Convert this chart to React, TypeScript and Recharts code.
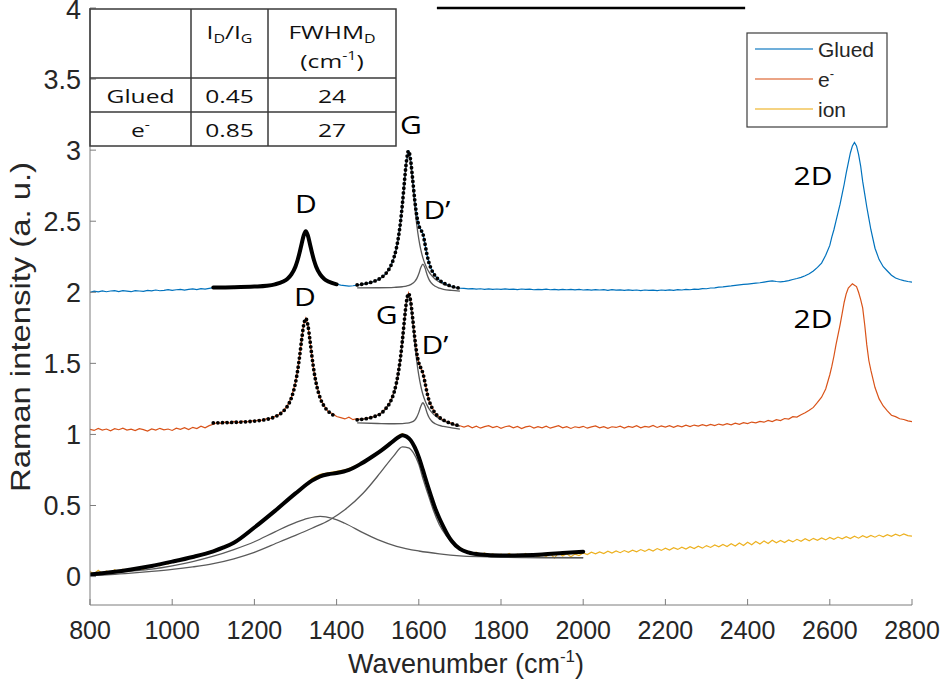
import React from 'react';
import {
  ComposedChart,
  Line,
  XAxis,
  YAxis,
  ReferenceDot,
  ReferenceLine,
} from 'recharts';

// wavenumber (cm-1), intensity (a. u.) pairs
const GLUED: number[][] = [
  [800, 2.0], [810, 2.008], [820, 2.003], [830, 2.01], [840, 2.004], [850, 2.009], [860, 2.012], [870, 2.005], [880, 2.011], [890, 2.008],
  [900, 2.004], [910, 2.012], [920, 2.009], [930, 2.006], [940, 2.013], [950, 2.01], [960, 2.016], [970, 2.011], [980, 2.014], [990, 2.019],
  [1000, 2.013], [1010, 2.018], [1020, 2.021], [1030, 2.015], [1040, 2.02], [1050, 2.024], [1060, 2.019], [1070, 2.026], [1080, 2.022], [1090, 2.028],
  [1100, 2.033], [1120, 2.031], [1140, 2.036], [1160, 2.034], [1180, 2.039], [1200, 2.041], [1220, 2.044], [1240, 2.051], [1250, 2.056], [1260, 2.064],
  [1270, 2.076], [1280, 2.094], [1290, 2.126], [1300, 2.182], [1305, 2.225], [1310, 2.28], [1315, 2.342], [1320, 2.4], [1325, 2.43], [1330, 2.4],
  [1335, 2.342], [1340, 2.28], [1345, 2.225], [1350, 2.182], [1360, 2.126], [1370, 2.094], [1380, 2.076], [1390, 2.064], [1400, 2.058], [1410, 2.05],
  [1420, 2.047], [1430, 2.043], [1440, 2.046], [1450, 2.05], [1460, 2.056], [1470, 2.061], [1480, 2.066], [1490, 2.076], [1500, 2.088], [1510, 2.106],
  [1520, 2.133], [1530, 2.176], [1540, 2.249], [1545, 2.304], [1550, 2.38], [1555, 2.483], [1560, 2.618], [1565, 2.777], [1570, 2.923], [1575, 3.0],
  [1580, 2.932], [1585, 2.797], [1590, 2.653], [1595, 2.54], [1600, 2.471], [1605, 2.439], [1610, 2.412], [1615, 2.341], [1620, 2.264], [1625, 2.206],
  [1630, 2.166], [1640, 2.115], [1650, 2.086], [1660, 2.066], [1670, 2.052], [1680, 2.042], [1690, 2.034], [1700, 2.029],
  [1710, 2.027], [1720, 2.024], [1730, 2.026], [1740, 2.022], [1750, 2.025], [1760, 2.021], [1770, 2.024], [1780, 2.02], [1790, 2.023], [1800, 2.021],
  [1810, 2.024], [1820, 2.02], [1830, 2.022], [1840, 2.019], [1850, 2.023], [1860, 2.02], [1870, 2.022], [1880, 2.018], [1890, 2.021], [1900, 2.019],
  [1910, 2.022], [1920, 2.018], [1930, 2.021], [1940, 2.017], [1950, 2.02], [1960, 2.018], [1970, 2.021], [1980, 2.017], [1990, 2.02], [2000, 2.016],
  [2010, 2.019], [2020, 2.015], [2030, 2.019], [2040, 2.016], [2050, 2.018], [2060, 2.014], [2070, 2.018], [2080, 2.015], [2090, 2.017], [2100, 2.013],
  [2110, 2.017], [2120, 2.014], [2130, 2.016], [2140, 2.012], [2150, 2.016], [2160, 2.013], [2170, 2.015], [2180, 2.012], [2190, 2.016], [2200, 2.013],
  [2210, 2.017], [2220, 2.014], [2230, 2.018], [2240, 2.016], [2250, 2.02], [2260, 2.018], [2270, 2.022], [2280, 2.021], [2290, 2.026], [2300, 2.025],
  [2310, 2.03], [2320, 2.031], [2330, 2.036], [2340, 2.038], [2350, 2.042], [2360, 2.045], [2370, 2.049], [2380, 2.052], [2390, 2.055], [2400, 2.058],
  [2410, 2.061], [2420, 2.064], [2430, 2.067], [2440, 2.072], [2450, 2.077], [2460, 2.08], [2470, 2.076], [2480, 2.073], [2490, 2.077], [2500, 2.082],
  [2510, 2.09], [2520, 2.097], [2530, 2.105], [2540, 2.116], [2550, 2.13], [2560, 2.15], [2570, 2.175], [2580, 2.205], [2590, 2.26], [2600, 2.33],
  [2605, 2.39], [2610, 2.44], [2615, 2.5], [2620, 2.56], [2625, 2.62], [2630, 2.69], [2635, 2.76], [2640, 2.84], [2645, 2.91], [2650, 2.98],
  [2655, 3.03], [2660, 3.055], [2665, 3.03], [2670, 2.97], [2675, 2.89], [2680, 2.78], [2685, 2.69], [2690, 2.6], [2695, 2.52], [2700, 2.44],
  [2710, 2.31], [2720, 2.23], [2730, 2.18], [2740, 2.15], [2750, 2.12], [2760, 2.1], [2770, 2.09], [2780, 2.082], [2790, 2.076], [2800, 2.072],
];

const ELECTRON: number[][] = [
  [800, 1.035], [810, 1.028], [820, 1.042], [830, 1.031], [840, 1.038], [850, 1.026], [860, 1.04], [870, 1.033], [880, 1.044], [890, 1.03],
  [900, 1.037], [910, 1.027], [920, 1.041], [930, 1.034], [940, 1.024], [950, 1.039], [960, 1.03], [970, 1.043], [980, 1.032], [990, 1.038],
  [1000, 1.028], [1010, 1.044], [1020, 1.036], [1030, 1.047], [1040, 1.034], [1050, 1.05], [1060, 1.041], [1070, 1.058], [1080, 1.046], [1090, 1.062],
  [1100, 1.072], [1110, 1.084], [1120, 1.076], [1130, 1.088], [1140, 1.08], [1150, 1.091], [1160, 1.083], [1170, 1.094], [1180, 1.086], [1190, 1.097],
  [1200, 1.093], [1210, 1.102], [1220, 1.099], [1230, 1.111], [1240, 1.113], [1250, 1.127], [1260, 1.139], [1270, 1.166], [1280, 1.201], [1290, 1.262],
  [1300, 1.366], [1305, 1.447], [1310, 1.551], [1315, 1.668], [1320, 1.775], [1325, 1.818], [1330, 1.769], [1335, 1.664], [1340, 1.546], [1345, 1.441],
  [1350, 1.362], [1360, 1.254], [1370, 1.201], [1380, 1.158], [1390, 1.147], [1400, 1.126], [1410, 1.118], [1420, 1.109], [1430, 1.121], [1440, 1.104],
  [1450, 1.112], [1460, 1.106], [1470, 1.113], [1480, 1.116], [1490, 1.127], [1500, 1.136], [1510, 1.155], [1520, 1.186], [1530, 1.228], [1540, 1.301],
  [1545, 1.352], [1550, 1.434], [1555, 1.528], [1560, 1.661], [1565, 1.802], [1570, 1.937], [1575, 1.995], [1580, 1.944], [1585, 1.816], [1590, 1.687],
  [1595, 1.571], [1600, 1.507], [1605, 1.464], [1610, 1.434], [1615, 1.364], [1620, 1.298], [1625, 1.235], [1630, 1.204], [1640, 1.146], [1650, 1.123],
  [1660, 1.098], [1670, 1.09], [1680, 1.079], [1690, 1.066], [1700, 1.061],
  [1710, 1.052], [1720, 1.061], [1730, 1.047], [1740, 1.058], [1750, 1.044], [1760, 1.055], [1770, 1.062], [1780, 1.048], [1790, 1.057], [1800, 1.043],
  [1810, 1.054], [1820, 1.06], [1830, 1.046], [1840, 1.056], [1850, 1.041], [1860, 1.053], [1870, 1.059], [1880, 1.045], [1890, 1.055], [1900, 1.047],
  [1910, 1.058], [1920, 1.044], [1930, 1.053], [1940, 1.061], [1950, 1.046], [1960, 1.055], [1970, 1.042], [1980, 1.054], [1990, 1.048], [2000, 1.057],
  [2010, 1.044], [2020, 1.053], [2030, 1.06], [2040, 1.046], [2050, 1.055], [2060, 1.043], [2070, 1.054], [2080, 1.049], [2090, 1.058], [2100, 1.045],
  [2110, 1.056], [2120, 1.05], [2130, 1.061], [2140, 1.047], [2150, 1.057], [2160, 1.052], [2170, 1.063], [2180, 1.049], [2190, 1.06], [2200, 1.052],
  [2210, 1.061], [2220, 1.05], [2230, 1.062], [2240, 1.054], [2250, 1.065], [2260, 1.055], [2270, 1.066], [2280, 1.058], [2290, 1.069], [2300, 1.061],
  [2310, 1.071], [2320, 1.062], [2330, 1.073], [2340, 1.066], [2350, 1.076], [2360, 1.068], [2370, 1.079], [2380, 1.071], [2390, 1.083], [2400, 1.076],
  [2410, 1.087], [2420, 1.081], [2430, 1.092], [2440, 1.086], [2450, 1.098], [2460, 1.091], [2470, 1.104], [2480, 1.098], [2490, 1.112], [2500, 1.108],
  [2510, 1.125], [2520, 1.122], [2530, 1.138], [2540, 1.152], [2550, 1.17], [2560, 1.19], [2570, 1.225], [2580, 1.262], [2590, 1.32], [2600, 1.42],
  [2605, 1.48], [2610, 1.55], [2615, 1.63], [2620, 1.7], [2625, 1.77], [2630, 1.85], [2635, 1.93], [2640, 1.99], [2645, 2.03], [2650, 2.045],
  [2655, 2.06], [2660, 2.05], [2665, 2.04], [2670, 2.0], [2675, 1.95], [2680, 1.89], [2685, 1.77], [2690, 1.63], [2695, 1.52], [2700, 1.45],
  [2710, 1.33], [2720, 1.25], [2730, 1.2], [2740, 1.165], [2750, 1.135], [2760, 1.125], [2770, 1.11], [2780, 1.105], [2790, 1.095], [2800, 1.09],
];

const ION: number[][] = [
  [800, 0.035], [810, 0.018], [820, 0.045], [830, 0.022], [840, 0.04], [850, 0.026], [860, 0.048], [870, 0.03], [880, 0.052], [890, 0.036],
  [900, 0.058], [910, 0.044], [920, 0.062], [930, 0.05], [940, 0.072], [950, 0.066], [960, 0.085], [970, 0.076], [980, 0.094], [990, 0.088],
  [1000, 0.112], [1010, 0.104], [1020, 0.125], [1030, 0.118], [1040, 0.14], [1050, 0.133], [1060, 0.152], [1070, 0.149], [1080, 0.168], [1090, 0.165],
  [1100, 0.185], [1120, 0.205], [1140, 0.228], [1160, 0.262], [1180, 0.295], [1200, 0.34], [1220, 0.385], [1240, 0.445], [1260, 0.488], [1280, 0.54],
  [1300, 0.59], [1320, 0.63], [1340, 0.69], [1360, 0.72], [1380, 0.73], [1400, 0.74], [1420, 0.75], [1440, 0.772], [1460, 0.8], [1480, 0.835],
  [1500, 0.875], [1520, 0.92], [1540, 0.965], [1550, 0.99], [1560, 1.005], [1570, 0.99], [1580, 0.965], [1590, 0.915], [1600, 0.85], [1610, 0.762],
  [1620, 0.66], [1630, 0.575], [1640, 0.485], [1650, 0.42], [1660, 0.355], [1670, 0.3], [1680, 0.262], [1690, 0.222], [1700, 0.205], [1710, 0.185],
  [1720, 0.178], [1730, 0.16], [1740, 0.172], [1750, 0.152], [1760, 0.166], [1770, 0.148], [1780, 0.16], [1790, 0.143], [1800, 0.158], [1810, 0.146],
  [1820, 0.162], [1830, 0.14], [1840, 0.157], [1850, 0.145], [1860, 0.163], [1870, 0.142], [1880, 0.159], [1890, 0.138], [1900, 0.156], [1910, 0.141],
  [1920, 0.162], [1930, 0.13], [1940, 0.168], [1950, 0.145], [1960, 0.16], [1970, 0.139], [1980, 0.158], [1990, 0.148], [2000, 0.166], [2010, 0.155],
  [2020, 0.172], [2030, 0.16], [2040, 0.174], [2050, 0.162], [2060, 0.178], [2070, 0.165], [2080, 0.18], [2090, 0.168], [2100, 0.183], [2110, 0.171],
  [2120, 0.186], [2130, 0.174], [2140, 0.19], [2150, 0.177], [2160, 0.192], [2170, 0.18], [2180, 0.197], [2190, 0.184], [2200, 0.199], [2210, 0.186],
  [2220, 0.203], [2230, 0.191], [2240, 0.206], [2250, 0.193], [2260, 0.21], [2270, 0.197], [2280, 0.214], [2290, 0.2], [2300, 0.218], [2310, 0.205],
  [2320, 0.222], [2330, 0.209], [2340, 0.226], [2350, 0.212], [2360, 0.231], [2370, 0.215], [2380, 0.236], [2390, 0.219], [2400, 0.242], [2410, 0.224],
  [2420, 0.247], [2430, 0.229], [2440, 0.251], [2450, 0.233], [2460, 0.256], [2470, 0.238], [2480, 0.254], [2490, 0.24], [2500, 0.258], [2510, 0.244],
  [2520, 0.262], [2530, 0.248], [2540, 0.266], [2550, 0.252], [2560, 0.269], [2570, 0.255], [2580, 0.272], [2590, 0.258], [2600, 0.275], [2610, 0.262],
  [2620, 0.278], [2630, 0.265], [2640, 0.28], [2650, 0.268], [2660, 0.284], [2670, 0.27], [2680, 0.287], [2690, 0.274], [2700, 0.29], [2710, 0.277],
  [2720, 0.292], [2730, 0.28], [2740, 0.295], [2750, 0.283], [2760, 0.298], [2770, 0.286], [2780, 0.3], [2790, 0.288], [2800, 0.285],
];

// Lorentzian fits and their components
const GLUED_D_FIT: number[][] = [
  [1100, 2.033], [1150, 2.035], [1200, 2.04], [1230, 2.046], [1250, 2.056], [1270, 2.076], [1280, 2.094], [1290, 2.126], [1300, 2.182], [1305, 2.225],
  [1310, 2.28], [1315, 2.342], [1320, 2.4], [1325, 2.43], [1330, 2.4], [1335, 2.342], [1340, 2.28], [1345, 2.225], [1350, 2.182], [1360, 2.126],
  [1370, 2.094], [1380, 2.076], [1400, 2.056],
];
const GLUED_G_FIT: number[][] = [
  [1450, 2.052], [1470, 2.061], [1490, 2.076], [1510, 2.106], [1520, 2.133], [1530, 2.176], [1540, 2.249], [1545, 2.304], [1550, 2.38], [1555, 2.483],
  [1560, 2.618], [1565, 2.777], [1570, 2.923], [1575, 2.995], [1580, 2.932], [1585, 2.797], [1590, 2.653], [1595, 2.54], [1600, 2.471], [1605, 2.439],
  [1610, 2.412], [1615, 2.341], [1620, 2.264], [1625, 2.206], [1630, 2.166], [1640, 2.115], [1650, 2.086], [1660, 2.066], [1680, 2.042], [1700, 2.029],
];
const GLUED_G_COMP: number[][] = [
  [1450, 2.051], [1470, 2.06], [1490, 2.075], [1510, 2.104], [1520, 2.13], [1530, 2.172], [1540, 2.244], [1545, 2.299], [1550, 2.374], [1555, 2.476],
  [1560, 2.609], [1565, 2.766], [1570, 2.909], [1575, 2.97], [1580, 2.909], [1585, 2.766], [1590, 2.609], [1595, 2.476], [1600, 2.374], [1605, 2.298],
  [1610, 2.242], [1615, 2.2], [1620, 2.167], [1625, 2.142], [1630, 2.122], [1640, 2.092], [1650, 2.072], [1660, 2.057], [1680, 2.038], [1700, 2.026],
];
const GLUED_DP_COMP: number[][] = [
  [1450, 2.031], [1500, 2.032], [1540, 2.035], [1560, 2.039], [1570, 2.044], [1580, 2.054], [1590, 2.075], [1595, 2.096], [1600, 2.13], [1605, 2.174],
  [1610, 2.198], [1615, 2.172], [1620, 2.125], [1625, 2.089], [1630, 2.067], [1640, 2.042], [1650, 2.029], [1660, 2.021], [1680, 2.013], [1700, 2.008],
];

const E_D_FIT: number[][] = [
  [1100, 1.081], [1150, 1.085], [1200, 1.094], [1230, 1.106], [1250, 1.124], [1270, 1.162], [1280, 1.197], [1290, 1.257], [1300, 1.364], [1305, 1.445],
  [1310, 1.549], [1315, 1.667], [1320, 1.771], [1325, 1.815], [1330, 1.771], [1335, 1.667], [1340, 1.549], [1345, 1.445], [1350, 1.364], [1360, 1.257],
  [1370, 1.197], [1380, 1.162], [1400, 1.124],
];
const E_G_FIT: number[][] = [
  [1450, 1.103], [1470, 1.11], [1490, 1.124], [1510, 1.152], [1520, 1.183], [1530, 1.225], [1540, 1.298], [1545, 1.355], [1550, 1.431], [1555, 1.531],
  [1560, 1.658], [1565, 1.805], [1570, 1.934], [1575, 1.991], [1580, 1.941], [1585, 1.819], [1590, 1.684], [1595, 1.574], [1600, 1.504], [1605, 1.467],
  [1610, 1.431], [1615, 1.367], [1620, 1.295], [1625, 1.238], [1630, 1.201], [1640, 1.149], [1650, 1.12], [1660, 1.101], [1680, 1.076], [1700, 1.06],
];
const E_G_COMP: number[][] = [
  [1450, 1.103], [1470, 1.11], [1490, 1.123], [1510, 1.152], [1520, 1.18], [1530, 1.222], [1540, 1.294], [1545, 1.35], [1550, 1.425], [1555, 1.524],
  [1560, 1.65], [1565, 1.795], [1570, 1.922], [1575, 1.975], [1580, 1.92], [1585, 1.791], [1590, 1.644], [1595, 1.516], [1600, 1.415], [1605, 1.339],
  [1610, 1.281], [1615, 1.239], [1620, 1.206], [1625, 1.18], [1630, 1.16], [1640, 1.131], [1650, 1.11], [1660, 1.095], [1680, 1.073], [1700, 1.058],
];
const E_DP_COMP: number[][] = [
  [1450, 1.081], [1500, 1.077], [1540, 1.075], [1560, 1.076], [1570, 1.079], [1580, 1.085], [1590, 1.1], [1595, 1.122], [1600, 1.155], [1605, 1.199],
  [1610, 1.223], [1615, 1.198], [1620, 1.153], [1625, 1.119], [1630, 1.098], [1640, 1.075], [1650, 1.063], [1660, 1.056], [1680, 1.046], [1700, 1.038],
];

const ION_FIT: number[][] = [
  [800, 0.014], [850, 0.03], [900, 0.05], [950, 0.075], [1000, 0.105], [1050, 0.138], [1100, 0.178], [1125, 0.205], [1150, 0.238], [1200, 0.345],
  [1250, 0.462], [1300, 0.585], [1340, 0.675], [1360, 0.705], [1380, 0.72], [1400, 0.728], [1430, 0.75], [1460, 0.795], [1490, 0.85], [1510, 0.89],
  [1530, 0.935], [1550, 0.98], [1560, 0.995], [1570, 0.985], [1580, 0.96], [1590, 0.91], [1600, 0.84], [1610, 0.75], [1620, 0.655], [1630, 0.565],
  [1640, 0.48], [1650, 0.41], [1660, 0.35], [1670, 0.295], [1680, 0.25], [1700, 0.195], [1720, 0.17], [1750, 0.155], [1800, 0.148], [1850, 0.15],
  [1900, 0.155], [1950, 0.165], [2000, 0.175],
];
const ION_COMP_1: number[][] = [
  [800, 0.014], [850, 0.025], [900, 0.038], [950, 0.052], [1000, 0.075], [1050, 0.105], [1100, 0.143], [1150, 0.19], [1200, 0.245], [1250, 0.315],
  [1300, 0.38], [1330, 0.41], [1360, 0.424], [1390, 0.41], [1420, 0.375], [1465, 0.307], [1500, 0.26], [1546, 0.213], [1600, 0.18], [1650, 0.16],
  [1700, 0.146], [1750, 0.14], [1800, 0.137], [1900, 0.134], [2000, 0.133],
];
const ION_COMP_2: number[][] = [
  [800, 0.007], [850, 0.014], [900, 0.024], [950, 0.036], [1000, 0.05], [1050, 0.068], [1100, 0.091], [1150, 0.125], [1200, 0.17], [1262, 0.245],
  [1300, 0.29], [1340, 0.34], [1384, 0.4], [1420, 0.47], [1465, 0.588], [1506, 0.729], [1538, 0.846], [1560, 0.912], [1575, 0.905], [1587, 0.87],
  [1600, 0.79], [1611, 0.68], [1623, 0.575], [1635, 0.47], [1650, 0.365], [1668, 0.283], [1690, 0.215], [1708, 0.178], [1730, 0.158], [1749, 0.148],
  [1789, 0.138], [1850, 0.134], [2000, 0.132],
];

const X_TICKS = [800, 1000, 1200, 1400, 1600, 1800, 2000, 2200, 2400, 2600, 2800];
const X_TOP_TICKS = [1000, 1200, 1600, 2400, 2600];
const Y_TICKS = [0, 0.5, 1, 1.5, 2, 2.5, 3, 3.5, 4];

// peak labels: [text, wavenumber, intensity]
const PEAK_LABELS: [string, number, number][] = [
  ['D', 1325, 2.62],
  ['G', 1581, 3.18],
  ['D\u2019', 1644, 2.58],
  ['D', 1323, 1.97],
  ['G', 1522, 1.84],
  ['D\u2019', 1639, 1.63],
  ['2D', 2559, 2.82],
  ['2D', 2559, 1.81],
];

const BLUE = '#0072BD';
const ORANGE = '#D95319';
const YELLOW = '#EDB120';
const COMP = '#5a5a5a';
const AXIS = '#7d7d7d';
const SANS = "'Liberation Sans', Arial, Helvetica, sans-serif";
const CALI = "'Open Sans', 'Noto Sans', sans-serif";

const pts = (a: number[][]) => a.map(([x, y]) => ({ x, y }));

function XTick({ x, y, payload }: any) {
  return (
    <text x={x} y={y + 34} textAnchor="middle" fontFamily={SANS} fontSize={25} fill="#262626">
      {payload.value}
    </text>
  );
}

function YTick({ x, y, payload }: any) {
  return (
    <text x={x - 9} y={y + 9.5} textAnchor="end" fontFamily={SANS} fontSize={27} fill="#262626">
      {payload.value}
    </text>
  );
}

const peakShape = (text: string) => (p: any) => (
  <text
    transform={`translate(${p.cx} ${p.cy + 9}) scale(1.2 1)`}
    textAnchor="middle"
    fontFamily={CALI}
    fontSize={25}
    fill="#000"
  >
    {text}
  </text>
);

function TableText({ cx, y, children, size = 18.5 }: any) {
  return (
    <text transform={`translate(${cx} ${y}) scale(1.33 1)`} textAnchor="middle" fontFamily={CALI} fontSize={size} fill="#111">
      {children}
    </text>
  );
}

function Overlay() {
  return (
    <svg width={941} height={680} style={{ position: 'absolute', left: 0, top: 0, pointerEvents: 'none' }}>
      {/* table */}
      <g stroke="#3a3a3a" strokeWidth={1.5} fill="none">
        <rect x={90} y={9} width={306} height={137} />
        <line x1={191} y1={9} x2={191} y2={146} />
        <line x1={268} y1={9} x2={268} y2={146} />
        <line x1={90} y1={78} x2={396} y2={78} />
        <line x1={90} y1={112} x2={396} y2={112} />
      </g>
      <TableText cx={229.5} y={39}>
        I<tspan fontSize={12} dy={4}>D</tspan>
        <tspan dy={-4}>/I</tspan>
        <tspan fontSize={12} dy={4}>G</tspan>
      </TableText>
      <TableText cx={332} y={39}>
        FWHM<tspan fontSize={12} dy={4}>D</tspan>
      </TableText>
      <TableText cx={332} y={68}>
        (cm<tspan fontSize={12} dy={-8}>-1</tspan>
        <tspan dy={8}>)</tspan>
      </TableText>
      <TableText cx={140.5} y={103}>Glued</TableText>
      <TableText cx={229.5} y={103}>0.45</TableText>
      <TableText cx={332} y={103}>24</TableText>
      <TableText cx={140.5} y={137}>
        e<tspan fontSize={12} dy={-8}>-</tspan>
      </TableText>
      <TableText cx={229.5} y={137}>0.85</TableText>
      <TableText cx={332} y={137}>27</TableText>

      {/* legend */}
      <rect x={747} y={33} width={140} height={94} fill="#fff" stroke="#3c3c3c" strokeWidth={1.2} />
      <line x1={755} y1={49} x2={813} y2={49} stroke={BLUE} strokeOpacity={0.75} strokeWidth={1.6} />
      <line x1={755} y1={79} x2={813} y2={79} stroke={ORANGE} strokeOpacity={0.7} strokeWidth={1.6} />
      <line x1={755} y1={109} x2={813} y2={109} stroke={YELLOW} strokeOpacity={0.75} strokeWidth={1.6} />
      <text x={818} y={57} fontFamily={SANS} fontSize={21} fill="#262626">Glued</text>
      <text x={818} y={87} fontFamily={SANS} fontSize={21} fill="#262626">
        e<tspan fontSize={13} dy={-9}>-</tspan>
      </text>
      <text x={818} y={117} fontFamily={SANS} fontSize={21} fill="#262626">ion</text>

      {/* axis titles */}
      <text x={466} y={673} textAnchor="middle" fontFamily={SANS} fontSize={27} fill="#262626">
        Wavenumber (cm<tspan fontSize={17} dy={-11}>-1</tspan>
        <tspan dy={11}>)</tspan>
      </text>
      <text
        transform="translate(30 327) rotate(-90)"
        textAnchor="middle"
        fontFamily={SANS}
        fontSize={27}
        fill="#262626"
        textLength={330}
        lengthAdjust="spacingAndGlyphs"
      >
        Raman intensity (a. u.)
      </text>
    </svg>
  );
}

export default function App() {
  const dataLine = { dot: false, activeDot: false, isAnimationActive: false, type: 'linear' as const, dataKey: 'y' };
  const compLine = { ...dataLine, type: 'monotone' as const, stroke: COMP, strokeWidth: 1.3 };
  const thickFit = { ...dataLine, type: 'monotone' as const, stroke: '#000', strokeWidth: 4, strokeLinecap: 'round' as const };
  const dottedFit = { ...thickFit, strokeWidth: 3.8, strokeDasharray: '0 4.6' };

  return (
    <div style={{ position: 'absolute', left: 0, top: 0, width: 941, height: 680, background: '#fff' }}>
      <ComposedChart width={941} height={680} margin={{ top: 8, right: 29, bottom: 45, left: 0 }}>
        <XAxis
          xAxisId={0}
          type="number"
          dataKey="x"
          domain={[800, 2800]}
          ticks={X_TICKS}
          allowDataOverflow
          height={30}
          tickSize={-6}
          tickMargin={6}
          tick={<XTick />}
          axisLine={{ stroke: AXIS }}
          tickLine={{ stroke: AXIS }}
        />
        <XAxis
          xAxisId="top"
          orientation="top"
          type="number"
          dataKey="x"
          domain={[800, 2800]}
          ticks={X_TOP_TICKS}
          allowDataOverflow
          height={0}
          tickSize={-6}
          tick={false}
          axisLine={{ stroke: AXIS }}
          tickLine={{ stroke: AXIS }}
        />
        <YAxis
          yAxisId={0}
          type="number"
          domain={[-0.2, 4]}
          ticks={Y_TICKS}
          allowDataOverflow
          width={90}
          tickSize={-6}
          tickMargin={6}
          tick={<YTick />}
          axisLine={{ stroke: AXIS }}
          tickLine={{ stroke: AXIS }}
        />
        <YAxis
          yAxisId="right"
          orientation="right"
          type="number"
          domain={[-0.2, 4]}
          ticks={Y_TICKS}
          allowDataOverflow
          width={0}
          tickSize={-6}
          tick={false}
          axisLine={{ stroke: AXIS }}
          tickLine={{ stroke: AXIS }}
        />

        <Line {...dataLine} data={pts(GLUED)} stroke={BLUE} strokeWidth={1.2} />
        <Line {...dataLine} data={pts(ELECTRON)} stroke={ORANGE} strokeWidth={1.2} />
        <Line {...dataLine} data={pts(ION)} stroke={YELLOW} strokeWidth={1.2} />

        <Line {...compLine} data={pts(GLUED_G_COMP)} />
        <Line {...compLine} data={pts(GLUED_DP_COMP)} />
        <Line {...compLine} data={pts(E_G_COMP)} />
        <Line {...compLine} data={pts(E_DP_COMP)} />
        <Line {...compLine} data={pts(ION_COMP_1)} />
        <Line {...compLine} data={pts(ION_COMP_2)} />

        <Line {...thickFit} data={pts(GLUED_D_FIT)} />
        <Line {...dottedFit} data={pts(GLUED_G_FIT)} />
        <Line {...dottedFit} data={pts(E_D_FIT)} />
        <Line {...dottedFit} data={pts(E_G_FIT)} />
        <Line {...thickFit} data={pts(ION_FIT)} />

        <ReferenceLine
          segment={[{ x: 1644, y: 4 }, { x: 2394, y: 4 }]}
          stroke="#000"
          strokeWidth={2.5}
          ifOverflow="visible"
        />
        {PEAK_LABELS.map(([t, x, y], i) => (
          <ReferenceDot key={i} x={x} y={y} r={0} ifOverflow="visible" shape={peakShape(t)} />
        ))}
      </ComposedChart>
      <Overlay />
    </div>
  );
}
